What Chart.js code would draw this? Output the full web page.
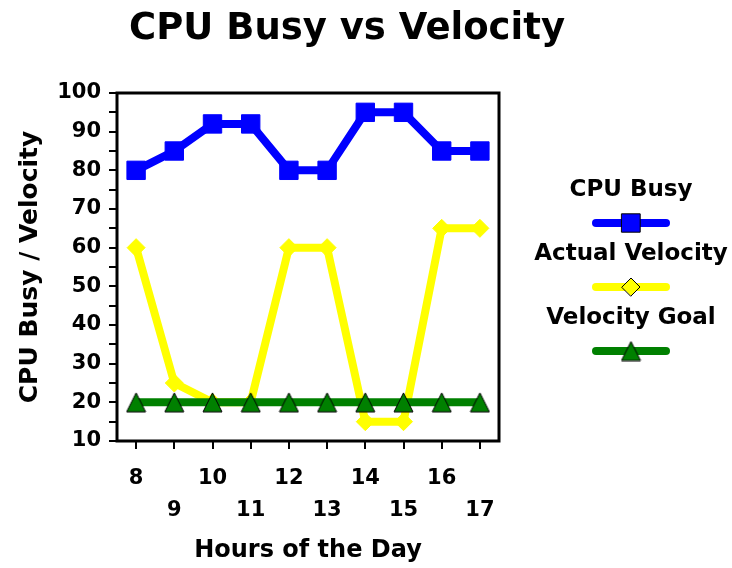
<!DOCTYPE html>
<html>
<head>
<meta charset="utf-8">
<script src="https://cdn.jsdelivr.net/npm/chart.js@4/dist/chart.umd.min.js"></script>
<style>
  html, body { margin: 0; padding: 0; background: #fff; }
  #wrap { width: 732px; height: 568px; }
</style>
</head>
<body>
<div id="wrap"><canvas id="cpuChart" width="732" height="568"></canvas></div>
<script>
// data
const hours = ['8', '9', '10', '11', '12', '13', '14', '15', '16', '17'];
const cpuBusy = [80, 85, 92, 92, 80, 80, 95, 95, 85, 85];
const actualVelocity = [60, 25, 20, 20, 60, 60, 15, 15, 65, 65];
const velocityGoal = [20, 20, 20, 20, 20, 20, 20, 20, 20, 20];
const seriesNames = ['CPU Busy', 'Actual Velocity', 'Velocity Goal'];

const FONT = '"DejaVu Sans", sans-serif';

// triangle marker centred on the point (chart.js' own triangle sits low)
function makeTriangle(color) {
    const c = document.createElement('canvas');
    c.width = 21;
    c.height = 21;
    const g = c.getContext('2d');
    g.fillStyle = color;
    g.strokeStyle = '#000';
    g.lineWidth = 1;
    g.beginPath();
    g.moveTo(10.5, 1);
    g.lineTo(20, 20);
    g.lineTo(1, 20);
    g.closePath();
    g.fill();
    g.stroke();
    return c;
}
const greenTriangle = makeTriangle('#008000');

function legendMarker(ctx, ds, x, y) {
    ctx.fillStyle = ds.pointBackgroundColor;
    ctx.strokeStyle = '#000';
    ctx.lineWidth = 1;
    Chart.helpers.drawPoint(ctx, { pointStyle: ds.pointStyle, radius: ds.pointRadius, borderWidth: 1 }, x, y);
}

// plot frame, title and the stacked legend on the right
const decorPlugin = {
    id: 'decor',
    beforeDatasetsDraw(chart) {
        const a = chart.chartArea;
        const ctx = chart.ctx;
        ctx.save();
        ctx.strokeStyle = '#000';
        ctx.lineWidth = 3;
        ctx.strokeRect(a.left, a.top, a.right - a.left, a.bottom - a.top);
        ctx.restore();
    },
    afterDraw(chart) {
        const ctx = chart.ctx;
        ctx.save();
        ctx.fillStyle = '#000';
        ctx.textAlign = 'center';
        ctx.textBaseline = 'middle';
        ctx.font = 'bold 37px ' + FONT;
        ctx.fillText('CPU Busy vs Velocity', 347, 29);

        const cx = 631;
        const rows = [190, 254, 318];
        chart.data.datasets.forEach((ds, i) => {
            const y = rows[i];
            ctx.fillStyle = '#000';
            ctx.font = 'bold 23px ' + FONT;
            ctx.fillText(ds.label, cx, y);
            const ly = y + 33;
            ctx.strokeStyle = ds.borderColor;
            ctx.lineWidth = 8;
            ctx.lineCap = 'round';
            ctx.beginPath();
            ctx.moveTo(cx - 35, ly);
            ctx.lineTo(cx + 35, ly);
            ctx.stroke();
            legendMarker(ctx, ds, cx, ly);
        });
        ctx.restore();
    }
};

const ctx = document.getElementById('cpuChart').getContext('2d');

const cpuChart = new Chart(ctx, {
    type: 'line',
    data: {
        labels: hours,
        datasets: [{
            label: seriesNames[0],
            data: cpuBusy,
            borderColor: '#0000ff',
            pointBackgroundColor: '#0000ff',
            pointStyle: 'rect',
            pointRadius: 13,
            order: 0
        }, {
            label: seriesNames[1],
            data: actualVelocity,
            borderColor: '#ffff00',
            pointBackgroundColor: '#ffff00',
            pointStyle: 'rectRot',
            pointRadius: 9,
            order: 2
        }, {
            label: seriesNames[2],
            data: velocityGoal,
            borderColor: '#008000',
            pointBackgroundColor: '#008000',
            pointStyle: greenTriangle,
            pointRadius: 11,
            order: 1
        }]
    },
    options: {
        responsive: false,
        animation: false,
        devicePixelRatio: 1,
        layout: { padding: { left: 0, top: 93, right: 233, bottom: 0 } },
        elements: {
            line: { borderWidth: 8, tension: 0, fill: false },
            point: { borderColor: '#000', borderWidth: 1 }
        },
        plugins: {
            legend: { display: false },
            title: { display: false },
            tooltip: { enabled: false }
        },
        scales: {
            x: {
                offset: true,
                afterFit(scale) { scale.height = 127; },
                grid: { offset: false, drawOnChartArea: false, color: '#000', lineWidth: 2, tickLength: 8 },
                border: { display: false },
                ticks: {
                    color: '#000',
                    padding: 14,
                    maxRotation: 0,
                    autoSkip: false,
                    font: { family: FONT, size: 21, weight: 'bold', lineHeight: 1.52 },
                    callback(v, i) { return i % 2 === 0 ? [hours[i]] : ['', hours[i]]; }
                },
                title: {
                    display: true,
                    text: 'Hours of the Day',
                    color: '#000',
                    padding: { top: 0, bottom: 3 },
                    font: { family: FONT, size: 24, weight: 'bold' }
                }
            },
            y: {
                min: 10,
                max: 100,
                afterFit(scale) { scale.width = 117; },
                grid: { drawOnChartArea: false, color: '#000', lineWidth: 2, tickLength: 8 },
                border: { display: false },
                ticks: {
                    stepSize: 5,
                    autoSkip: false,
                    color: '#000',
                    padding: 8,
                    font: { family: FONT, size: 21, weight: 'bold' },
                    callback(v) { return v % 10 === 0 ? v : ''; }
                },
                title: {
                    display: true,
                    text: 'CPU Busy / Velocity',
                    color: '#000',
                    padding: { top: 15, bottom: 0 },
                    font: { family: FONT, size: 25, weight: 'bold' }
                }
            }
        }
    },
    plugins: [decorPlugin]
});
</script>
</body>
</html>
